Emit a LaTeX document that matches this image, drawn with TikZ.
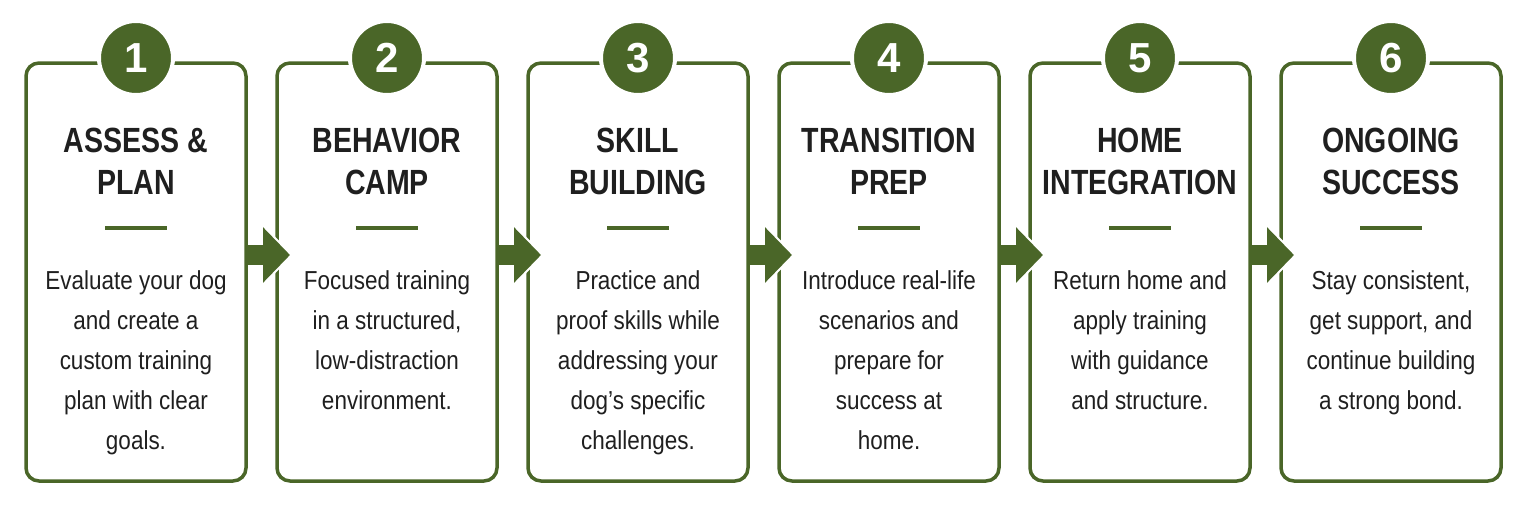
\documentclass[tikz,border=0pt]{standalone}
\usepackage{fontspec}
\setmainfont{Liberation Sans}
\newfontfamily\headfont[FakeStretch=0.815]{Liberation Sans}
\newfontfamily\copyfont[FakeStretch=0.865]{Liberation Sans}
\usepackage{tikz}
\usetikzlibrary{calc}
\usetikzlibrary{positioning}
\usetikzlibrary{arrows.meta}
\definecolor{leaf}{HTML}{4A6628}
\definecolor{ink}{HTML}{1F1F1F}

\begin{document}
\begin{tikzpicture}[x=1pt, y=-1pt,
  stage/.style={draw=leaf, line width=3.5pt, rounded corners=13pt, outer sep=0pt,
    minimum width=220pt, minimum height=418pt, inner sep=0pt},
  badge/.style={circle, fill=leaf, draw=white, line width=4pt, minimum size=74pt,
    inner sep=0pt, text=white, font=\bfseries\fontsize{42}{42}\selectfont},
  heading/.style={align=center, text=ink, inner sep=0pt,
    font=\headfont\bfseries\fontsize{35}{42}\selectfont},
  divider/.style={fill=leaf, minimum width=62pt, minimum height=4pt, inner sep=0pt},
  blurb/.style={align=center, text=ink, inner sep=0pt, anchor=north,
    font=\copyfont\fontsize{26}{40}\selectfont},
  gap/.style={white, line width=26pt, -{Triangle[width=62pt, length=31pt]}},
  push/.style={leaf, line width=20pt, -{Triangle[width=54pt, length=27pt]}}
]
  \useasboundingbox (0,0) rectangle (1526,509);

  % the six stages
  \node[stage, anchor=north west] (box1) at (26,63) {};
  \node[stage, right=31pt of box1] (box2) {};
  \node[stage, right=31pt of box2] (box3) {};
  \node[stage, right=31pt of box3] (box4) {};
  \node[stage, right=31pt of box4] (box5) {};
  \node[stage, right=31pt of box5] (box6) {};

  % arrows between the stages
  \draw[gap] ($(box1.east)+(4,-17)$) -- ($(box2.west)+(16,-17)$);
  \draw[push] ($(box1.east)+(0,-17)$) -- ($(box2.west)+(13,-17)$);
  \draw[gap] ($(box2.east)+(4,-17)$) -- ($(box3.west)+(16,-17)$);
  \draw[push] ($(box2.east)+(0,-17)$) -- ($(box3.west)+(13,-17)$);
  \draw[gap] ($(box3.east)+(4,-17)$) -- ($(box4.west)+(16,-17)$);
  \draw[push] ($(box3.east)+(0,-17)$) -- ($(box4.west)+(13,-17)$);
  \draw[gap] ($(box4.east)+(4,-17)$) -- ($(box5.west)+(16,-17)$);
  \draw[push] ($(box4.east)+(0,-17)$) -- ($(box5.west)+(13,-17)$);
  \draw[gap] ($(box5.east)+(4,-17)$) -- ($(box6.west)+(16,-17)$);
  \draw[push] ($(box5.east)+(0,-17)$) -- ($(box6.west)+(13,-17)$);

  % 1
  \node[badge] (num1) at ($(box1.north)+(0,-5)$) {1};
  \node[heading] (head1) at ($(box1.north)+(0,98)$) {ASSESS \&\\PLAN};
  \node[divider] (rule1) at ($(box1.north)+(0,165)$) {};
  \node[blurb] (text1) at ($(box1.north)+(0,207)$)
    {Evaluate your dog\\and create a\\custom training\\plan with clear\\goals.};

  % 2
  \node[badge] (num2) at ($(box2.north)+(0,-5)$) {2};
  \node[heading] (head2) at ($(box2.north)+(0,98)$) {BEHAVIOR\\CAMP};
  \node[divider] (rule2) at ($(box2.north)+(0,165)$) {};
  \node[blurb] (text2) at ($(box2.north)+(0,207)$)
    {Focused training\\in a structured,\\low-distraction\\environment.};

  % 3
  \node[badge] (num3) at ($(box3.north)+(0,-5)$) {3};
  \node[heading] (head3) at ($(box3.north)+(0,98)$) {SKILL\\BUILDING};
  \node[divider] (rule3) at ($(box3.north)+(0,165)$) {};
  \node[blurb] (text3) at ($(box3.north)+(0,207)$)
    {Practice and\\proof skills while\\addressing your\\dog’s specific\\challenges.};

  % 4
  \node[badge] (num4) at ($(box4.north)+(0,-5)$) {4};
  \node[heading] (head4) at ($(box4.north)+(0,98)$) {TRANSITION\\PREP};
  \node[divider] (rule4) at ($(box4.north)+(0,165)$) {};
  \node[blurb] (text4) at ($(box4.north)+(0,207)$)
    {Introduce real-life\\scenarios and\\prepare for\\success at\\home.};

  % 5
  \node[badge] (num5) at ($(box5.north)+(0,-5)$) {5};
  \node[heading] (head5) at ($(box5.north)+(0,98)$) {HOME\\INTEGRATION};
  \node[divider] (rule5) at ($(box5.north)+(0,165)$) {};
  \node[blurb] (text5) at ($(box5.north)+(0,207)$)
    {Return home and\\apply training\\with guidance\\and structure.};

  % 6
  \node[badge] (num6) at ($(box6.north)+(0,-5)$) {6};
  \node[heading] (head6) at ($(box6.north)+(0,98)$) {ONGOING\\SUCCESS};
  \node[divider] (rule6) at ($(box6.north)+(0,165)$) {};
  \node[blurb] (text6) at ($(box6.north)+(0,207)$)
    {Stay consistent,\\get support, and\\continue building\\a strong bond.};
\end{tikzpicture}
\end{document}
